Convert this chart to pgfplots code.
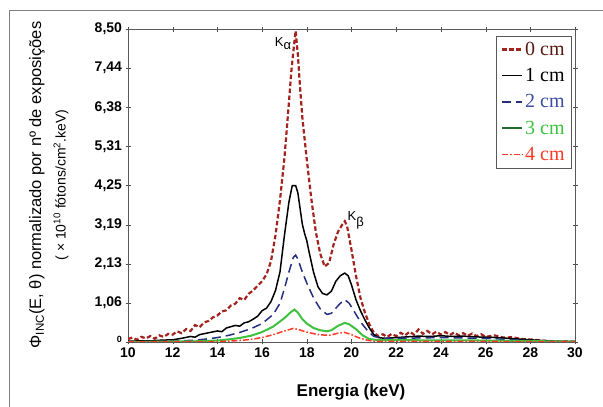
\documentclass[border=0pt]{standalone}
\usepackage{pgfplots}
\pgfplotsset{compat=1.18}
\usepackage{fontspec}
\setmainfont{Liberation Sans}
\newfontfamily\legfont{Liberation Serif}

\definecolor{c0}{HTML}{A3231E}
\definecolor{c0t}{HTML}{5A1A12}
\definecolor{c2}{HTML}{27307E}
\definecolor{c2t}{HTML}{3A4EA6}
\definecolor{c3}{HTML}{3EC13E}
\definecolor{c3l}{HTML}{1F6E30}
\definecolor{c4}{HTML}{FF3A24}

\begin{document}
\begin{tikzpicture}[x=1pt,y=1pt]
\useasboundingbox (0,0) rectangle (603,407);
\draw[gray, line width=1pt] (9,0) -- (9,396) -- (603,396);

\begin{axis}[
    at={(128pt,65pt)}, anchor=south west,
    width=447pt, height=313pt, scale only axis,
    xmin=10, xmax=30, ymin=0, ymax=8.5,
    xtick={10,12,...,30},
    xticklabels={10,12,14,16,18,20,22,24,26,28,30},
    ytick={0,1.0625,2.125,3.1875,4.25,5.3125,6.375,7.4375,8.5},
    yticklabels={{\raisebox{5pt}{\fontsize{9}{9}\selectfont 0}},{1,06},{2,13},{3,19},{4,25},{5,31},{6,38},{7,44},{8,50}},
    ticklabel style={font=\fontsize{14}{14}\selectfont\bfseries},
    tick align=center, major tick length=5pt,
    tick style={gray!60!black},
    axis line style={gray!70!black, line width=0.9pt},
    legend style={at={(0.993,0.978)}, anchor=north east, draw=gray!70!black,
        font=\legfont\fontsize{20}{20}\selectfont, cells={anchor=west},
        row sep=7.5pt, inner xsep=5pt, inner ysep=4pt},
    legend image code/.code={\draw[#1] plot coordinates {(0pt,0pt) (20pt,0pt)};},
]
% 0 cm
\addplot[c0, line width=2.2pt, dash pattern=on 4.5pt off 2.5pt] coordinates {
(10.0,0.08)(10.2,0.12)(10.4,0.06)(10.6,0.14)(10.8,0.10)(11.0,0.16)(11.2,0.09)(11.4,0.18)
(11.6,0.14)(11.8,0.22)(12.0,0.20)(12.2,0.29)(12.4,0.24)(12.6,0.35)(12.8,0.30)(13.0,0.46)
(13.2,0.40)(13.4,0.53)(13.6,0.57)(13.8,0.67)(14.0,0.72)(14.2,0.83)(14.4,0.86)(14.6,0.99)
(14.8,1.04)(15.0,1.19)(15.2,1.14)(15.4,1.31)(15.6,1.40)(15.8,1.53)(16.0,1.65)(16.2,1.84)
(16.4,2.20)(16.6,2.90)(16.8,3.85)(17.0,5.00)(17.2,6.50)(17.3,7.30)(17.4,7.90)(17.5,8.45)
(17.6,7.80)(17.7,6.90)(17.8,6.10)(18.0,4.95)(18.2,3.90)(18.4,3.00)(18.6,2.40)(18.8,2.05)
(19.0,2.15)(19.2,2.65)(19.4,3.00)(19.6,3.20)(19.7,3.28)(19.8,3.15)(20.0,2.50)(20.2,1.80)
(20.4,1.20)(20.6,0.80)(20.8,0.48)(21.0,0.25)(21.2,0.16)(21.4,0.21)(21.6,0.14)(21.8,0.22)
(22.0,0.16)(22.2,0.25)(22.4,0.18)(22.6,0.28)(22.8,0.20)(23.0,0.34)(23.2,0.22)(23.4,0.30)
(23.6,0.21)(23.8,0.28)(24.0,0.20)(24.2,0.27)(24.4,0.19)(24.6,0.26)(24.8,0.18)(25.0,0.24)
(25.2,0.17)(25.4,0.23)(25.6,0.16)(25.8,0.21)(26.0,0.14)(26.4,0.18)(26.8,0.12)(27.2,0.13)
(27.6,0.08)(28.0,0.07)(28.5,0.04)(29.0,0.02)(30.0,0.01)};
\addlegendentry{\textcolor{c0t}{0 cm}}
% 1 cm
\addplot[black, line width=1.5pt] coordinates {
(10.0,0.02)(10.5,0.03)(11.0,0.03)(11.5,0.05)(12.0,0.06)(12.4,0.10)(12.8,0.15)(13.0,0.13)
(13.2,0.20)(13.6,0.25)(14.0,0.30)(14.2,0.28)(14.4,0.38)(14.8,0.45)(15.0,0.43)(15.2,0.52)
(15.4,0.55)(15.6,0.62)(15.8,0.70)(16.0,0.85)(16.2,0.92)(16.4,1.10)(16.6,1.40)(16.8,1.90)
(17.0,2.90)(17.2,3.80)(17.35,4.25)(17.5,4.25)(17.6,4.05)(17.8,3.20)(17.9,2.95)(18.0,2.75)
(18.1,2.45)(18.3,1.90)(18.5,1.50)(18.7,1.32)(18.9,1.28)(19.1,1.38)(19.3,1.65)(19.5,1.80)
(19.7,1.87)(19.85,1.80)(20.0,1.55)(20.2,1.15)(20.4,0.85)(20.6,0.60)(20.8,0.38)(21.0,0.20)
(21.2,0.12)(21.5,0.10)(22.0,0.12)(22.5,0.14)(23.0,0.16)(23.5,0.15)(24.0,0.17)(24.5,0.15)
(25.0,0.16)(25.5,0.14)(26.0,0.13)(26.5,0.12)(27.0,0.10)(27.5,0.08)(28.0,0.06)(29.0,0.02)(30.0,0.01)};
\addlegendentry{\textcolor{black}{1 cm}}
% 2 cm
\addplot[c2, line width=1.5pt, dash pattern=on 9pt off 5pt] coordinates {
(10.0,0.01)(12.0,0.02)(13.0,0.05)(13.5,0.08)(14.0,0.12)(14.5,0.18)(15.0,0.26)(15.5,0.36)
(16.0,0.50)(16.5,0.75)(16.8,1.05)(17.0,1.45)(17.2,1.90)(17.4,2.30)(17.5,2.36)(17.6,2.25)
(17.8,1.90)(18.0,1.60)(18.3,1.20)(18.6,0.90)(18.9,0.75)(19.1,0.78)(19.3,0.92)(19.5,1.05)
(19.7,1.15)(19.9,1.05)(20.1,0.85)(20.4,0.55)(20.7,0.32)(21.0,0.15)(21.5,0.10)(22.0,0.10)
(24.0,0.12)(26.0,0.10)(28.0,0.04)(29.0,0.02)(30.0,0.01)};
\addlegendentry{\textcolor{c2t}{2 cm}}
% 3 cm
\addplot[c3, line width=2pt, legend image post style={c3l}] coordinates {
(10.0,0.00)(13.0,0.02)(14.0,0.04)(14.5,0.07)(15.0,0.11)(15.5,0.17)(16.0,0.27)(16.5,0.42)
(17.0,0.65)(17.3,0.82)(17.45,0.88)(17.6,0.80)(17.8,0.62)(18.0,0.50)(18.3,0.38)(18.6,0.32)
(18.9,0.29)(19.1,0.32)(19.4,0.44)(19.7,0.52)(19.9,0.48)(20.2,0.35)(20.5,0.18)(20.8,0.08)
(21.2,0.05)(22.0,0.05)(26.0,0.04)(30.0,0.01)};
\addlegendentry{\textcolor{c3}{3 cm}}
% 4 cm
\addplot[c4, line width=1.5pt, dash pattern=on 6pt off 2pt on 1.5pt off 2pt] coordinates {
(10.0,0.00)(14.0,0.01)(15.0,0.04)(15.5,0.07)(16.0,0.12)(16.5,0.20)(17.0,0.30)(17.4,0.37)
(17.6,0.34)(18.0,0.27)(18.5,0.20)(19.0,0.18)(19.4,0.24)(19.7,0.26)(20.0,0.20)(20.3,0.12)
(20.7,0.05)(21.0,0.02)(30.0,0.01)};
\addlegendentry{\textcolor{c4}{4 cm}}

\node[font=\fontsize{13}{13}\selectfont] at (axis cs:16.95,8.1) {K$_{\textrm{α}}$};
\node[font=\fontsize{13}{13}\selectfont] at (axis cs:20.2,3.3) {K$_{\textrm{β}}$};
\end{axis}

\node[rotate=90, font=\fontsize{16.5}{16.5}\selectfont] at (37,222)
  {Φ\textsubscript{INC}(E, θ) normalizado por nº de exposições};
\node[rotate=90, font=\fontsize{14}{14}\selectfont] at (61,222)
  {( × 10\textsuperscript{10} fótons/cm\textsuperscript{2}.keV)};
\node[font=\fontsize{17}{17}\selectfont\bfseries] at (351,15) {Energia (keV)};
\end{tikzpicture}
\end{document}
